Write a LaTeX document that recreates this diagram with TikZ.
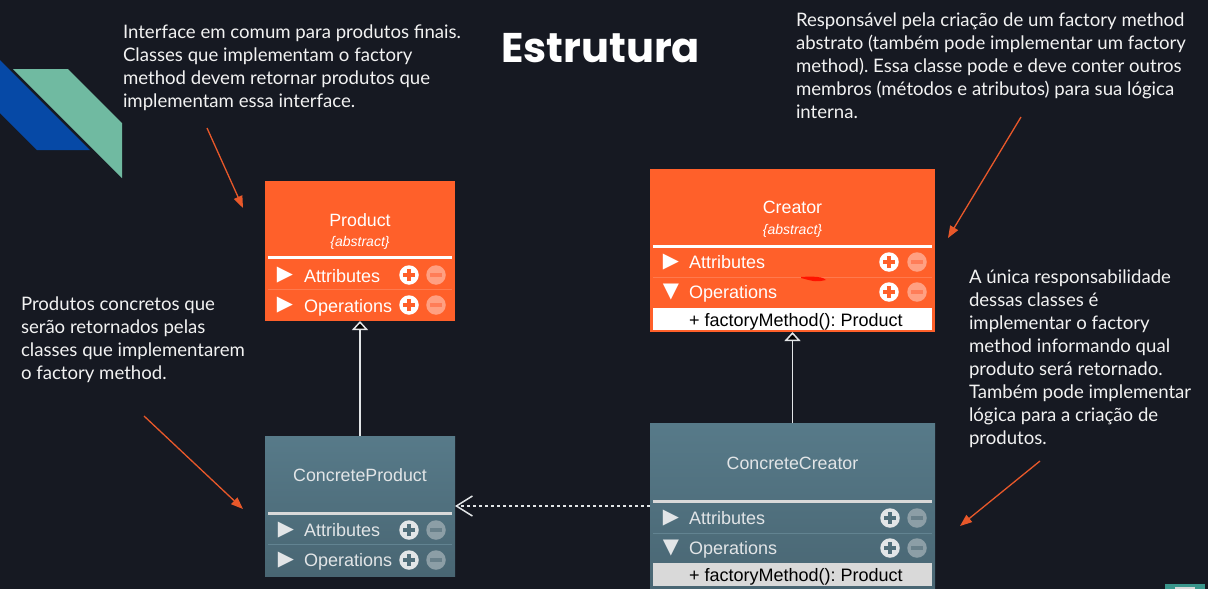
\documentclass[tikz,border=0pt]{standalone}
\usepackage{fontspec}
\setmainfont{Lato}
\setsansfont{Liberation Sans}
\newfontfamily\headfont{Poppins}
\newfontfamily\glyphfont{DejaVu Sans}
\usetikzlibrary{arrows.meta}
\frenchspacing
\definecolor{bg}{RGB}{22,25,34}
\definecolor{orbox}{RGB}{255,96,42}
\definecolor{orline}{RGB}{255,122,78}
\definecolor{orminus}{RGB}{255,160,130}
\definecolor{orminusbar}{RGB}{255,125,88}
\definecolor{grtop}{RGB}{87,122,137}
\definecolor{grbot}{RGB}{73,102,115}
\definecolor{grline}{RGB}{98,131,145}
\definecolor{grtext}{RGB}{226,229,231}
\definecolor{grplus}{RGB}{80,110,122}
\definecolor{grminus}{RGB}{140,158,166}
\definecolor{grminusbar}{RGB}{105,128,138}
\definecolor{rowgray}{RGB}{217,217,217}
\definecolor{notecol}{RGB}{232,88,42}
\definecolor{notetxt}{RGB}{242,242,242}
\definecolor{deepblue}{RGB}{6,73,166}
\definecolor{mint}{RGB}{112,186,161}
\definecolor{cornerteal}{RGB}{58,150,140}
\begin{document}
\begin{tikzpicture}[x=1pt, y=-1pt, every node/.style={inner sep=0, outer sep=0},
	absbox/.style={rectangle, fill=orbox},
	concbox/.style={rectangle, top color=grtop, bottom color=grbot},
	clsname/.style={font=\sffamily\fontsize{17.8}{18}\selectfont, anchor=base},
	clsabs/.style={font=\sffamily\itshape\fontsize{14}{14}\selectfont, anchor=base},
	bar/.style={rectangle, minimum height=3},
	divider/.style={rectangle, minimum height=1},
	tri/.style={font=\glyphfont\fontsize{21}{21}\selectfont},
	rowtext/.style={font=\sffamily\fontsize{18}{18}\selectfont, anchor=base west},
	plusbtn/.style 2 args={circle, fill=#1, minimum size=19.5, path picture={
		\draw[#2, line width=3.2] ([xshift=-6pt]path picture bounding box.center) -- ([xshift=6pt]path picture bounding box.center)
		([yshift=-6pt]path picture bounding box.center) -- ([yshift=6pt]path picture bounding box.center);}},
	minusbtn/.style 2 args={circle, fill=#1, minimum size=19.5, path picture={
		\draw[#2, line width=3.2] ([xshift=-6pt]path picture bounding box.center) -- ([xshift=6pt]path picture bounding box.center);}},
	notetext/.style={font=\fontsize{18.6}{23}\selectfont, text=notetxt, align=left, anchor=north west},
	notearrow/.style={draw=notecol, line width=1.3, -{Triangle[length=12, width=9]}},
	inherit/.style={draw=grtext, line width=1.5, -{Triangle[length=9, width=16, fill=black]}},
	depend/.style={draw=grtext, line width=1.5, dash pattern=on 3 off 3, -{Straight Barb[length=16, width=20]}}]

	\useasboundingbox (0,0) rectangle (1208,589);
	\fill[bg] (0,0) rectangle (1208,589);
	\fill[deepblue] (0,60) -- (90,150) -- (37,150) -- (0,113) -- cycle;
	\fill[mint] (13,69) -- (68,69) -- (122,123) -- (122,178) -- cycle;
	\fill[cornerteal] (1165,584) rectangle (1205,589);
	\fill[rowgray] (1175,587) rectangle (1195,589);

	\node (T) at (600.5,62) [font=\headfont\bfseries\fontsize{41.5}{42}\selectfont, text=white, anchor=base] {Estrutura};

	\node (P) at (360,251) [absbox, minimum width=190, minimum height=140] {};
	\node (P1) at (360,226) [clsname, text=white] {Product};
	\node (P2) at (360,246) [clsabs, text=white] {\{abstract\}};
	\node (P3) at (360,257.5) [bar, fill=white, minimum width=184] {};
	\node (P4) at (285,275) [tri, text=white] {▶};
	\node (P5) at (304,282) [rowtext, text=white] {Attributes};
	\node (P6) at (409,275) [plusbtn={white}{orbox}] {};
	\node (P7) at (436,275) [minusbtn={orminus}{orminusbar}] {};
	\node (P8) at (360,289.5) [divider, fill=orline, minimum width=184] {};
	\node (P9) at (285,305) [tri, text=white] {▶};
	\node (P10) at (304,312) [rowtext, text=white] {Operations};
	\node (P11) at (409,305) [plusbtn={white}{orbox}] {};
	\node (P12) at (436,305) [minusbtn={orminus}{orminusbar}] {};

	\node (C) at (792.5,250.5) [absbox, minimum width=285, minimum height=163] {};
	\node (C1) at (792.5,213) [clsname, text=white] {Creator};
	\node (C2) at (792.5,234) [clsabs, text=white] {\{abstract\}};
	\node (C3) at (792.5,246.5) [bar, fill=white, minimum width=279] {};
	\node (C4) at (671,262) [tri, text=white] {▶};
	\node (C5) at (689,268) [rowtext, text=white] {Attributes};
	\node (C6) at (889,262) [plusbtn={white}{orbox}] {};
	\node (C7) at (917,262) [minusbtn={orminus}{orminusbar}] {};
	\node (C8) at (792.5,277) [divider, fill=orline, minimum width=279] {};
	\node (C9) at (671,292) [tri, text=white] {▼};
	\node (C10) at (689,298) [rowtext, text=white] {Operations};
	\node (C11) at (889,292) [plusbtn={white}{orbox}] {};
	\node (C12) at (917,292) [minusbtn={orminus}{orminusbar}] {};
	\node (C13) at (792.5,319) [rectangle, fill=white, minimum width=279, minimum height=22] {};
	\node (C14) at (689,326) [rowtext, text=black] {+ factoryMethod(): Product};
	\fill[red!85!orange] (801,277) .. controls (814,276) and (824,277) .. (826,280) .. controls (816,282) .. (801,278) -- cycle;

	\node (CP) at (360,506) [concbox, minimum width=190, minimum height=140] {};
	\node (CP1) at (360,481) [clsname, text=grtext] {ConcreteProduct};
	\node (CP2) at (360,513.5) [bar, fill=rowgray, minimum width=184] {};
	\node (CP3) at (286,530) [tri, text=grtext] {▶};
	\node (CP4) at (304,536) [rowtext, text=grtext] {Attributes};
	\node (CP5) at (409,530) [plusbtn={grtext}{grplus}] {};
	\node (CP6) at (436,530) [minusbtn={grminus}{grminusbar}] {};
	\node (CP7) at (360,544.5) [divider, fill=grline, minimum width=184] {};
	\node (CP8) at (286,560) [tri, text=grtext] {▶};
	\node (CP9) at (304,566) [rowtext, text=grtext] {Operations};
	\node (CP10) at (409,560) [plusbtn={grtext}{grplus}] {};
	\node (CP11) at (436,560) [minusbtn={grminus}{grminusbar}] {};

	\node (CC) at (792.5,506) [concbox, minimum width=285, minimum height=166] {};
	\node (CC1) at (792.5,469) [clsname, text=grtext] {ConcreteCreator};
	\node (CC2) at (792.5,501.5) [bar, fill=rowgray, minimum width=279] {};
	\node (CC3) at (671,518) [tri, text=grtext] {▶};
	\node (CC4) at (689,524) [rowtext, text=grtext] {Attributes};
	\node (CC5) at (890,518) [plusbtn={grtext}{grplus}] {};
	\node (CC6) at (917,518) [minusbtn={grminus}{grminusbar}] {};
	\node (CC7) at (792.5,533) [divider, fill=grline, minimum width=279] {};
	\node (CC8) at (671,548) [tri, text=grtext] {▼};
	\node (CC9) at (689,554) [rowtext, text=grtext] {Operations};
	\node (CC10) at (890,548) [plusbtn={grtext}{grplus}] {};
	\node (CC11) at (917,548) [minusbtn={grminus}{grminusbar}] {};
	\node (CC12) at (792.5,574.5) [rectangle, fill=rowgray, minimum width=279, minimum height=23] {};
	\node (CC13) at (689,581) [rowtext, text=black] {+ factoryMethod(): Product};

	\draw[inherit] (CP) to (P);
	\draw[inherit] (CC) to (C);
	\draw[depend] (CC) to (CP);

	\node (N1) at (123,25) [notetext] {Interface em comum para produtos finais.\\Classes que implementam o factory\\method devem retornar produtos que\\implementam essa interface.};
	\node (N2) at (796,13) [notetext] {Responsável pela criação de um factory method\\abstrato (também pode implementar um factory\\method). Essa classe pode e deve conter outros\\membros (métodos e atributos) para sua lógica\\interna.};
	\node (N3) at (21,297) [notetext] {Produtos concretos que\\serão retornados pelas\\classes que implementarem\\o factory method.};
	\node (N4) at (969,270) [notetext] {A única responsabilidade\\dessas classes é\\implementar o factory\\method informando qual\\produto será retornado.\\Também pode implementar\\lógica para a criação de\\produtos.};

	\coordinate (N1a) at (207,128);
	\coordinate (N1b) at (243,208);
	\coordinate (N2a) at (1021,117);
	\coordinate (N2b) at (948,238);
	\coordinate (N3a) at (144,416);
	\coordinate (N3b) at (243,509);
	\coordinate (N4a) at (1040,461);
	\coordinate (N4b) at (960,526);
	\draw[notearrow] (N1a) to (N1b);
	\draw[notearrow] (N2a) to (N2b);
	\draw[notearrow] (N3a) to (N3b);
	\draw[notearrow] (N4a) to (N4b);
\end{tikzpicture}
\end{document}
